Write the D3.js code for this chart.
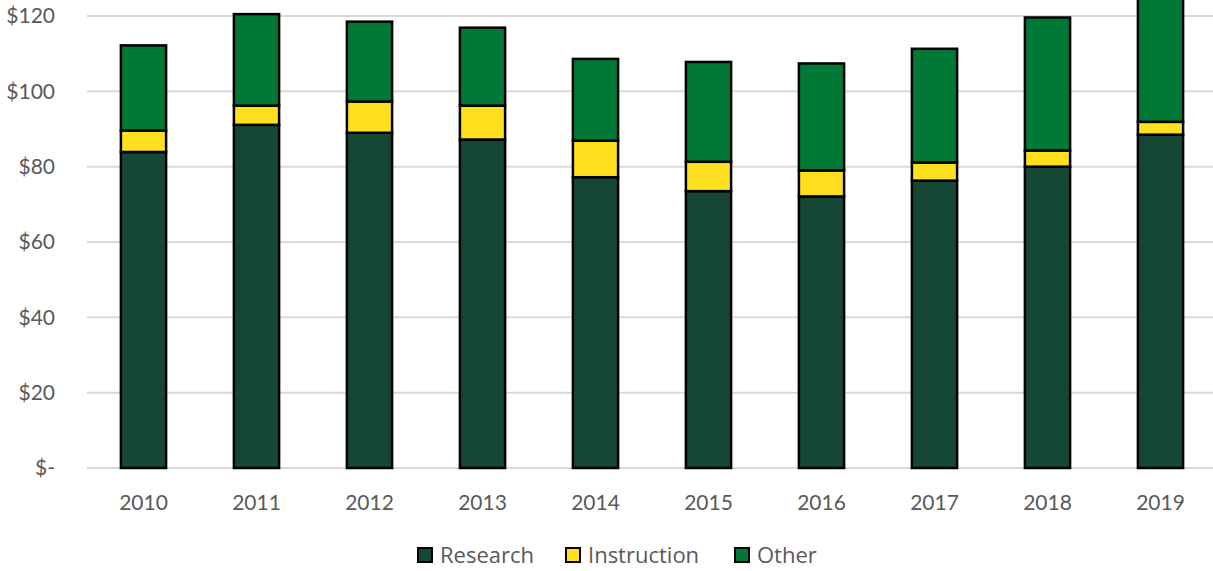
<!DOCTYPE html>
<html>
<head>
<meta charset="utf-8">
<script src="https://cdn.jsdelivr.net/npm/d3@7"></script>
<style>
  body { margin: 0; background: #fff; }
  svg { display: block; }
  .axis text { font-family: "Lato", "Open Sans", sans-serif; fill: #595959; }
  .legend text { font-family: "Open Sans", "Noto Sans", sans-serif; fill: #595959; }
</style>
</head>
<body>
<div id="chart"></div>
<script>
// Dados
const years = ["2010", "2011", "2012", "2013", "2014", "2015", "2016", "2017", "2018", "2019"];
const research = [83.9, 91.1, 89.0, 87.2, 77.2, 73.5, 72.1, 76.3, 80.0, 88.5];
const instruction = [5.7, 5.1, 8.3, 9.0, 9.7, 7.8, 6.9, 4.8, 4.3, 3.4];
const other = [22.6, 24.3, 21.2, 20.7, 21.7, 26.5, 28.4, 30.2, 35.3, 40.0];
const seriesNames = ["Research", "Instruction", "Other"];
const colors = ["#154734", "#ffe01f", "#007836"];
const yTicks = [0, 20, 40, 60, 80, 100, 120];

const W = 1213, H = 571;
const margin = { top: 16, right: -4, bottom: 103, left: 87 };
const width = W - margin.left - margin.right;
const height = H - margin.top - margin.bottom;

const svg = d3.select("#chart")
    .append("svg")
    .attr("width", W)
    .attr("height", H);

const g = svg.append("g")
    .attr("transform", `translate(${margin.left},${margin.top})`);

const x = d3.scaleBand()
    .domain(years)
    .range([0, width])
    .paddingInner(0.6)
    .paddingOuter(0.3);

const y = d3.scaleLinear()
    .domain([0, 120])
    .range([height, 0]);

// Grid
g.append("g")
    .selectAll("line")
    .data(yTicks)
    .enter()
    .append("line")
    .attr("x1", 0)
    .attr("x2", width + 10)
    .attr("y1", d => y(d))
    .attr("y2", d => y(d))
    .attr("stroke", "#d9d9d9")
    .attr("stroke-width", 2);

// Eixo Y
const yAxis = g.append("g")
    .attr("class", "axis")
    .call(d3.axisLeft(y)
        .tickValues(yTicks)
        .tickSize(0)
        .tickPadding(32)
        .tickFormat(d => d === 0 ? "$-" : "$" + d));
yAxis.select(".domain").remove();
yAxis.selectAll("text").attr("font-size", "21px");

// Eixo X
const xAxis = g.append("g")
    .attr("class", "axis")
    .attr("transform", `translate(0,${height})`)
    .call(d3.axisBottom(x).tickSize(0).tickPadding(27));
xAxis.select(".domain").remove();
xAxis.selectAll("text").attr("font-size", "21px");

// Empilhamento
const table = years.map((yr, i) => ({
    year: yr,
    Research: research[i],
    Instruction: instruction[i],
    Other: other[i]
}));
const stacked = d3.stack().keys(seriesNames)(table);

g.append("g")
    .selectAll("g")
    .data(stacked)
    .enter()
    .append("g")
    .attr("fill", (d, i) => colors[i])
    .selectAll("rect")
    .data(d => d)
    .enter()
    .append("rect")
    .attr("x", d => x(d.data.year))
    .attr("y", d => y(d[1]))
    .attr("width", x.bandwidth())
    .attr("height", d => y(d[0]) - y(d[1]))
    .attr("stroke", "#000")
    .attr("stroke-width", 2.5);

// Legenda
const legendItems = [
    { name: "Research", x: 418 },
    { name: "Instruction", x: 566 },
    { name: "Other", x: 735 }
];
const legend = svg.append("g").attr("class", "legend");
const li = legend.selectAll("g")
    .data(legendItems)
    .enter()
    .append("g")
    .attr("transform", d => `translate(${d.x},548)`);
li.append("rect")
    .attr("width", 14)
    .attr("height", 14)
    .attr("fill", (d, i) => colors[i])
    .attr("stroke", "#000")
    .attr("stroke-width", 2);
li.append("text")
    .attr("x", 22)
    .attr("y", 15)
    .attr("font-size", "22px")
    .text(d => d.name);
</script>
</body>
</html>
